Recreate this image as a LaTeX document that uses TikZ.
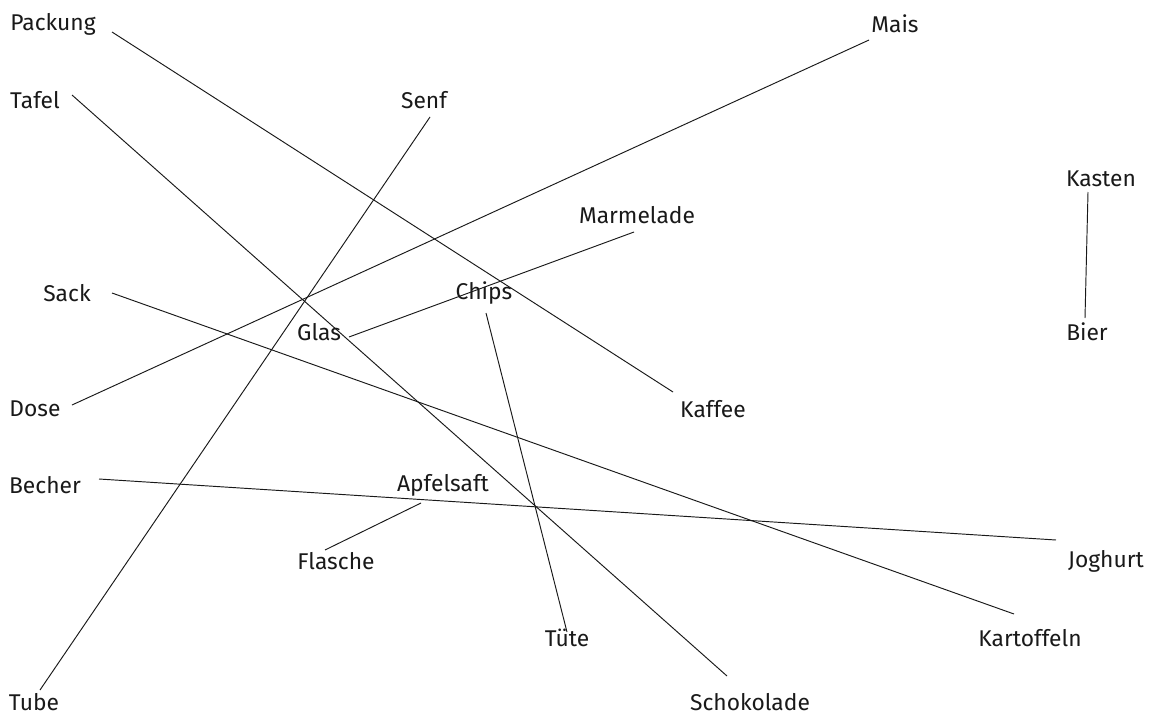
\documentclass[tikz,border=0pt]{standalone}
\usepackage{fontspec}
\setmainfont{Fira Sans}
\begin{document}
\begin{tikzpicture}[x=1pt,y=-1pt,
  lbl/.style={inner sep=0pt,font=\fontsize{22.8}{26}\selectfont,text=black!90},
  conn/.style={line width=0.95pt,black!90}]
\useasboundingbox (0,0) rectangle (1154,715);
\node[lbl] (packung) at (53,24) {Packung};
\node[lbl] (mais) at (895,24) {Mais};
\node[lbl] (tafel) at (35,100) {Tafel};
\node[lbl] (senf) at (424,100) {Senf};
\node[lbl] (kasten) at (1101,179) {Kasten};
\node[lbl] (marmelade) at (637,215) {Marmelade};
\node[lbl] (sack) at (67,293) {Sack};
\node[lbl] (chips) at (484,293) {Chips};
\node[lbl] (glas) at (319,332) {Glas};
\node[lbl] (bier) at (1087,332) {Bier};
\node[lbl] (dose) at (35,409) {Dose};
\node[lbl] (kaffee) at (713,409) {Kaffee};
\node[lbl] (becher) at (45,485) {Becher};
\node[lbl] (apfelsaft) at (443,485) {Apfelsaft};
\node[lbl] (flasche) at (336,561) {Flasche};
\node[lbl] (joghurt) at (1106,561) {Joghurt};
\node[lbl] (tuete) at (567,638) {Tüte};
\node[lbl] (kartoffeln) at (1030,638) {Kartoffeln};
\node[lbl] (tube) at (34,702) {Tube};
\node[lbl] (schokolade) at (750,702) {Schokolade};
% connector end points
\coordinate (cPackung) at (112,32);
\coordinate (cKaffee) at (673,392);
\coordinate (cTafel) at (72,95);
\coordinate (cSchokolade) at (727,676);
\coordinate (cSenf) at (430,117);
\coordinate (cTube) at (40,690);
\coordinate (cMais) at (869,40);
\coordinate (cDose) at (72,405);
\coordinate (cMarmelade) at (634,232);
\coordinate (cGlas) at (349,337);
\coordinate (cSack) at (112,293);
\coordinate (cKartoffeln) at (1014,614);
\coordinate (cChips) at (486,313);
\coordinate (cTuete) at (567,632);
\coordinate (cKasten) at (1088,192);
\coordinate (cBier) at (1085,318);
\coordinate (cBecher) at (99,479);
\coordinate (cJoghurt) at (1056,540);
\coordinate (cApfelsaft) at (421,503);
\coordinate (cFlasche) at (325,550);
\draw[conn] (cPackung) -- (cKaffee);
\draw[conn] (cTafel) -- (cSchokolade);
\draw[conn] (cSenf) -- (cTube);
\draw[conn] (cMais) -- (cDose);
\draw[conn] (cMarmelade) -- (cGlas);
\draw[conn] (cSack) -- (cKartoffeln);
\draw[conn] (cChips) -- (cTuete);
\draw[conn] (cKasten) -- (cBier);
\draw[conn] (cBecher) -- (cJoghurt);
\draw[conn] (cApfelsaft) -- (cFlasche);
\end{tikzpicture}
\end{document}
